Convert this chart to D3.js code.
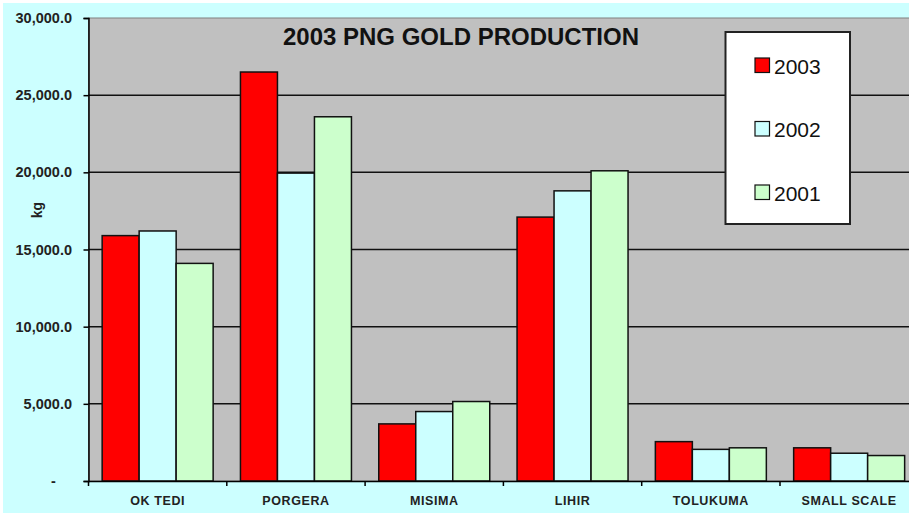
<!DOCTYPE html>
<html>
<head>
<meta charset="utf-8">
<script src="https://cdn.jsdelivr.net/npm/d3@7"></script>
<style>
  html, body { margin: 0; padding: 0; background: #fff; }
  svg { display: block; font-family: "Liberation Sans", Arial, sans-serif; }
  .axis path, .axis line { stroke: #000; stroke-width: 1.5; }
  .axis text { fill: #222; font-weight: bold; }
</style>
</head>
<body>
<div id="graphicContainer"></div>
<script>
var mines = ["OK TEDI", "PORGERA", "MISIMA", "LIHIR", "TOLUKUMA", "SMALL SCALE"]
var years = ["2003", "2002", "2001"]
var prod2003 = [15900, 26500, 3700, 17100, 2550, 2150]
var prod2002 = [16200, 19950, 4500, 18800, 2050, 1800]
var prod2001 = [14100, 23600, 5150, 20100, 2150, 1650]
var yTicks = [0, 5000, 10000, 15000, 20000, 25000, 30000]
var colours = ["#ff0000", "#ccffff", "#ccffcc"]

var series = [prod2003, prod2002, prod2001]
var data = mines.map((m, i) => {
  var row = { mine: m }
  years.forEach((y, j) => row[y] = series[j][i])
  return row
})

var width = 909, height = 513
var margin = { top: 18, left: 88.5, bottom: 481 }
var band = 138.3

var svg = d3.select("#graphicContainer").append("svg")
  .attr("width", width)
  .attr("height", height)

svg.append("rect")
  .attr("x", 3).attr("y", 3)
  .attr("width", width - 3).attr("height", height - 3)
  .attr("fill", "#ccffff")

var x0 = d3.scaleBand()
  .domain(mines)
  .range([margin.left, margin.left + band * mines.length])

var x1 = d3.scaleBand()
  .domain(years)
  .range([0, x0.bandwidth()])
  .paddingInner(0)
  .paddingOuter(0.369)

var y = d3.scaleLinear()
  .domain([0, 30000])
  .range([margin.bottom, margin.top])

var colour = d3.scaleOrdinal().domain(years).range(colours)

// plot area
svg.append("rect")
  .attr("x", margin.left)
  .attr("y", margin.top)
  .attr("width", width - margin.left + 5)
  .attr("height", margin.bottom - margin.top)
  .attr("fill", "#c0c0c0")
  .attr("stroke", "#808080")
  .attr("stroke-width", 1)

// gridlines
svg.append("g")
  .selectAll("line")
  .data(yTicks.filter(d => d > 0 && d < 30000))
  .enter()
  .append("line")
  .attr("x1", margin.left)
  .attr("x2", width + 5)
  .attr("y1", d => y(d))
  .attr("y2", d => y(d))
  .attr("stroke", "#111")
  .attr("stroke-width", 1.5)

// title
svg.append("text")
  .attr("x", 461)
  .attr("y", 45)
  .attr("text-anchor", "middle")
  .attr("font-size", "24px")
  .attr("font-weight", "bold")
  .attr("fill", "#111")
  .text("2003 PNG GOLD PRODUCTION")

// bars
var groups = svg.append("g")
  .selectAll("g")
  .data(data)
  .enter()
  .append("g")
  .attr("transform", d => `translate(${x0(d.mine)},0)`)

groups.selectAll("rect")
  .data(d => years.map(key => ({ key, value: d[key] })))
  .enter()
  .append("rect")
  .attr("x", d => x1(d.key))
  .attr("y", d => y(d.value))
  .attr("width", x1.bandwidth())
  .attr("height", d => y(0) - y(d.value))
  .attr("fill", d => colour(d.key))
  .attr("stroke", "#111")
  .attr("stroke-width", 1.5)

// y axis
var yAxis = svg.append("g")
  .attr("class", "axis")
  .attr("transform", `translate(${margin.left},0)`)
  .call(d3.axisLeft(y)
    .tickValues(yTicks)
    .tickSize(5)
    .tickPadding(11.5)
    .tickFormat(d => d === 0 ? "-" : d3.format(",.1f")(d)))

yAxis.selectAll("text").attr("font-size", "14.5px")
yAxis.selectAll(".tick").filter(d => d === 0).select("text")
  .attr("x", -35)
  .attr("text-anchor", "middle")

// x axis
var xAxis = svg.append("g")
  .attr("class", "axis")
  .attr("transform", `translate(0,${margin.bottom})`)
  .call(d3.axisBottom(x0).tickSize(0).tickPadding(15).tickSizeOuter(0))

xAxis.selectAll("text").attr("font-size", "12.5px").attr("letter-spacing", "0.6px")

xAxis.selectAll(".bound")
  .data(mines)
  .enter()
  .append("line")
  .attr("x1", d => x0(d))
  .attr("x2", d => x0(d))
  .attr("y1", 0)
  .attr("y2", 5)
  .attr("stroke", "#000")
  .attr("stroke-width", 1.5)

// y label
svg.append("text")
  .attr("transform", "translate(42,210) rotate(-90)")
  .attr("text-anchor", "middle")
  .attr("font-size", "14px")
  .attr("font-weight", "bold")
  .attr("fill", "#222")
  .text("kg")

// legend
var legend = svg.append("g")

legend.append("rect")
  .attr("x", 725.5).attr("y", 32)
  .attr("width", 124.5).attr("height", 192)
  .attr("fill", "#fff")
  .attr("stroke", "#222")
  .attr("stroke-width", 2)

var items = legend.selectAll(".item")
  .data(years)
  .enter()
  .append("g")
  .attr("transform", (d, i) => `translate(755,${58 + i * 63.5})`)

items.append("rect")
  .attr("width", 14.5).attr("height", 14.5)
  .attr("fill", d => colour(d))
  .attr("stroke", "#111")
  .attr("stroke-width", 1.2)

items.append("text")
  .attr("x", 19)
  .attr("y", 15.5)
  .attr("font-size", "21px")
  .attr("fill", "#111")
  .text(d => d)
</script>
</body>
</html>
